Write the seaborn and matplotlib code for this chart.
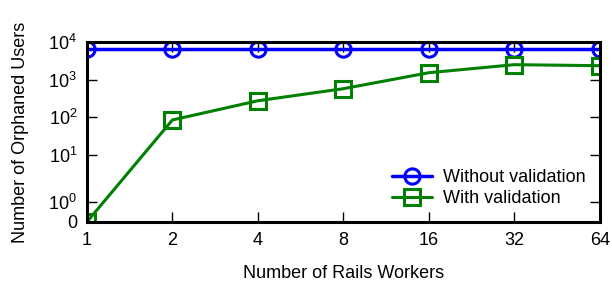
import matplotlib
matplotlib.use("Agg")
import matplotlib.pyplot as plt
from matplotlib import ticker
import seaborn as sns
import numpy as np

# values
workers = [1, 2, 4, 8, 16, 32, 64]
without_validation = [6600, 6600, 6600, 6600, 6600, 6600, 6600]
with_validation = [0, 85, 275, 575, 1530, 2500, 2350]

x_ticks = [1, 2, 4, 8, 16, 32, 64]
y_ticks = [0, 1, 10, 100, 1000, 10000]
y_tick_labels = ["0", r"$\mathregular{10^0}$", r"$\mathregular{10^1}$",
                 r"$\mathregular{10^2}$", r"$\mathregular{10^3}$", r"$\mathregular{10^4}$"]

blue = "#0000ff"
green = "#008000"

sns.set_style("ticks")
plt.rcParams["font.family"] = ["Liberation Sans", "DejaVu Sans"]
plt.rcParams["mathtext.fontset"] = "custom"
plt.rcParams["mathtext.rm"] = "Liberation Sans"
plt.rcParams["font.size"] = 13
plt.rcParams["text.color"] = "black"
plt.rcParams["axes.labelcolor"] = "black"


# the reference y axis: short linear piece near 0, stretched 1..10, log above 10
def fwd(y):
    y = np.asarray(y, dtype=float)
    lo = 0.53 * y
    mid = 0.53 + 1.25 * np.log10(np.clip(y, 1, None))
    hi = 1.78 + np.log10(np.clip(y, 10, None) / 10)
    return np.where(y <= 1, lo, np.where(y <= 10, mid, hi))


def inv(p):
    p = np.asarray(p, dtype=float)
    lo = p / 0.53
    mid = 10 ** ((np.clip(p, 0.53, 1.78) - 0.53) / 1.25)
    hi = 10 * 10 ** (np.clip(p, 1.78, 12) - 1.78)
    return np.where(p <= 0.53, lo, np.where(p <= 1.78, mid, hi))


fig = plt.figure(figsize=(6.12, 2.82), dpi=100)
ax = fig.add_axes([0.142, 0.213, 0.838, 0.638])

sns.lineplot(x=workers, y=without_validation, ax=ax, color=blue, lw=2.5,
             marker="o", markersize=11, markerfacecolor="none",
             markeredgecolor=blue, markeredgewidth=2.2,
             label="Without validation")
sns.lineplot(x=workers, y=with_validation, ax=ax, color=green, lw=2.2,
             marker="s", markersize=11, markerfacecolor="none",
             markeredgecolor=green, markeredgewidth=2.2,
             label="With validation")

ax.set_xscale("log", base=2)
ax.set_xlim(1, 64)
ax.xaxis.set_major_locator(ticker.FixedLocator(x_ticks))
ax.xaxis.set_minor_locator(ticker.NullLocator())
ax.set_xticklabels([str(v) for v in x_ticks])

ax.set_yscale("function", functions=(fwd, inv))
ax.set_ylim(0, 10000)
ax.yaxis.set_major_locator(ticker.FixedLocator(y_ticks))
ax.yaxis.set_minor_locator(ticker.NullLocator())
ax.set_yticklabels(y_tick_labels)

ax.tick_params(direction="in", length=7, width=1, pad=7,
               top=True, right=True, labelsize=13, colors="black")
for s in ax.spines.values():
    s.set_linewidth(2.2)
    s.set_color("black")

ax.set_xlabel("Number of Rails Workers", fontsize=13, labelpad=12)
ax.set_ylabel("Number of Orphaned Users", fontsize=13, labelpad=14)

leg = ax.legend(loc="lower right", frameon=False, fontsize=13, handlelength=2.2,
                handletextpad=0.6, labelspacing=0.25, borderaxespad=0.4)
for t in leg.get_texts():
    t.set_color("black")

fig.savefig("out.png", dpi=100)
